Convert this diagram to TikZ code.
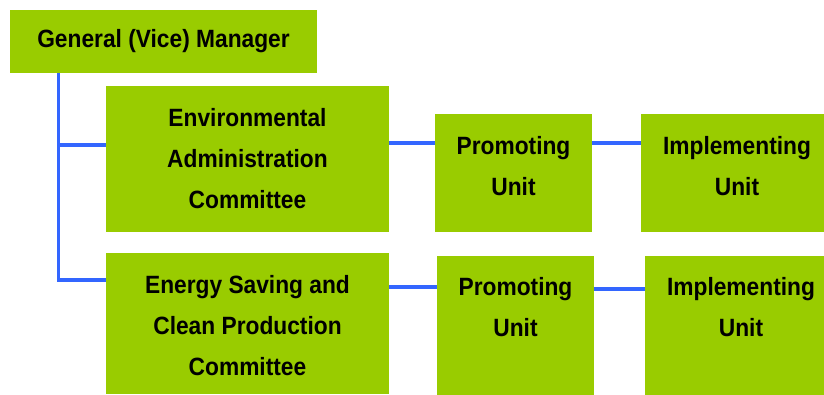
\documentclass[tikz,border=0pt]{standalone}
\usepackage{fontspec}
\newfontfamily\labfont[FakeStretch=0.91]{Liberation Sans}
\definecolor{boxgreen}{HTML}{99CC00}
\definecolor{linkblue}{HTML}{3366FF}
\begin{document}
\begin{tikzpicture}[x=1pt,y=-1pt,
  box/.style={fill=boxgreen, draw=none, inner sep=0pt, anchor=north west},
  lab/.style={font=\labfont\bfseries\fontsize{25}{41}\selectfont, align=center, inner sep=0pt, text=black},
  link/.style={draw=linkblue, line width=3.4pt}]
\useasboundingbox (0,0) rectangle (824,394);
% boxes
\node[box, minimum width=307, minimum height=63] (gm) at (10,10) {};
\node[box, minimum width=283, minimum height=146] (env) at (106,86) {};
\node[box, minimum width=283, minimum height=141] (esc) at (106,253) {};
\node[box, minimum width=157, minimum height=118] (p1) at (435,114) {};
\node[box, minimum width=185, minimum height=118] (i1) at (641,114) {};
\node[box, minimum width=157, minimum height=140] (p2) at (437,256) {};
\node[box, minimum width=185, minimum height=140] (i2) at (645,256) {};
% labels
\node[lab] (tgm) at (163.5,41) {General (Vice) Manager};
\node[lab] (tenv) at (247.5,159) {Environmental\\Administration\\Committee};
\node[lab] (tesc) at (247.5,326) {Energy Saving and\\Clean Production\\Committee};
\node[lab] (tp1) at (513.5,166) {Promoting\\Unit};
\node[lab] (ti1) at (737,166) {Implementing\\Unit};
\node[lab] (tp2) at (515.5,307.5) {Promoting\\Unit};
\node[lab] (ti2) at (741,307.5) {Implementing\\Unit};
% connectors
\coordinate (t1) at (58.5,145);
\coordinate (t2) at (58.5,280);
\coordinate (r1) at (0,143);
\coordinate (r2) at (0,287);
\coordinate (r3) at (0,289);
\draw[link] (gm.south -| t2) -- (t2) -- (t2 -| esc.west);
\draw[link] (t1) -- (t1 -| env.west);
\draw[link] (env.east |- r1) -- (p1.west |- r1);
\draw[link] (p1.east |- r1) -- (i1.west |- r1);
\draw[link] (esc.east |- r2) -- (p2.west |- r2);
\draw[link] (p2.east |- r3) -- (i2.west |- r3);
\end{tikzpicture}
\end{document}
